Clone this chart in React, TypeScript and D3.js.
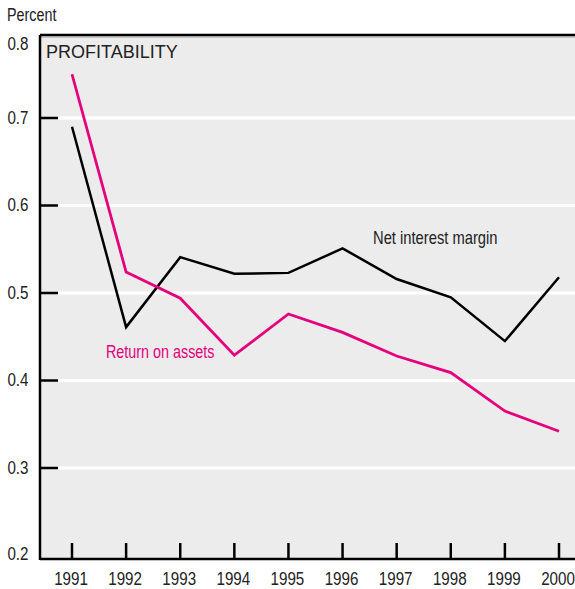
import React from "react";
import * as d3 from "d3";

const years = [1991, 1992, 1993, 1994, 1995, 1996, 1997, 1998, 1999, 2000];
const netInterestMargin = [0.69, 0.461, 0.541, 0.522, 0.523, 0.551, 0.516, 0.495, 0.445, 0.518];
const returnOnAssets = [0.75, 0.524, 0.494, 0.429, 0.476, 0.455, 0.428, 0.409, 0.365, 0.342];
const yTicks = [0.2, 0.3, 0.4, 0.5, 0.6, 0.7, 0.8];
const gridTicks = [0.3, 0.4, 0.5, 0.6, 0.7];

const W = 575;
const H = 589;
const SANS = "'Liberation Sans', Arial, sans-serif";
const PINK = "#e5007d";

function NText(props: {
  x: number;
  y: number;
  size: number;
  fill: string;
  anchor?: string;
  baseline?: string;
  children: React.ReactNode;
}) {
  return (
    <text
      transform={`translate(${props.x},${props.y}) scale(0.82,1)`}
      textAnchor={props.anchor || "start"}
      dominantBaseline={props.baseline || "auto"}
      fontFamily={SANS}
      fontSize={props.size}
      fill={props.fill}
    >
      {props.children}
    </text>
  );
}

export default function App() {
  const x = d3.scaleLinear().domain([1991, 2000]).range([72, 559]);
  const y = d3.scaleLinear().domain([0.3, 0.7]).range([468, 118]);
  const panelLeft = 40;
  const panelTop = 35;
  const panelBottom = 559;

  const line = d3
    .line<[number, number]>()
    .x((d) => x(d[0]))
    .y((d) => y(d[1]));

  const nim = years.map((yr, i) => [yr, netInterestMargin[i]] as [number, number]);
  const roa = years.map((yr, i) => [yr, returnOnAssets[i]] as [number, number]);

  const labelY = (t: number) => {
    if (t === 0.8) return 45;
    if (t === 0.2) return 555;
    return y(t) + 1;
  };

  return (
    <svg
      width={W}
      height={H}
      style={{ position: "absolute", left: 0, top: 0, background: "#fff" }}
    >
      <rect x={panelLeft} y={panelTop} width={W - panelLeft} height={panelBottom - panelTop} fill="#ececec" />
      {gridTicks.map((t) => (
        <line key={"g" + t} x1={58} x2={W} y1={y(t)} y2={y(t)} stroke="#fff" strokeWidth={3} />
      ))}
      {gridTicks.map((t) => (
        <line key={"t" + t} x1={panelLeft} x2={58} y1={y(t)} y2={y(t)} stroke="#000" strokeWidth={2.5} />
      ))}
      {/* top border */}
      <line x1={panelLeft} x2={W} y1={panelTop} y2={panelTop} stroke="#000" strokeWidth={2.5} />
      <line x1={panelLeft} x2={W} y1={panelTop + 2} y2={panelTop + 2} stroke="#999" strokeWidth={1} />
      {/* left axis */}
      <line x1={panelLeft} x2={panelLeft} y1={panelTop} y2={panelBottom + 1} stroke="#000" strokeWidth={2.5} />
      {/* bottom axis */}
      <line x1={panelLeft} x2={W} y1={panelBottom} y2={panelBottom} stroke="#000" strokeWidth={2.5} />
      {years.map((yr) => (
        <line key={"xt" + yr} x1={x(yr)} x2={x(yr)} y1={panelBottom} y2={543} stroke="#000" strokeWidth={2.5} />
      ))}
      {years.map((yr) => (
        <NText key={"xl" + yr} x={x(yr) - 1} y={585} anchor="middle" size={18.5} fill="#222">
          {yr}
        </NText>
      ))}
      {yTicks.map((t) => (
        <NText key={"yl" + t} x={28.5} y={labelY(t)} anchor="end" baseline="middle" size={18.5} fill="#222">
          {t.toFixed(1)}
        </NText>
      ))}
      <NText x={7} y={21} size={17.5} fill="#222">Percent</NText>
      <text x={46} y={58} fontFamily={SANS} fontSize={18} fill="#222">PROFITABILITY</text>

      <path d={line(nim) || ""} fill="none" stroke="#000" strokeWidth={2.5} strokeLinejoin="miter" />
      <path d={line(roa) || ""} fill="none" stroke={PINK} strokeWidth={2.8} strokeLinejoin="miter" />

      <NText x={373} y={244} size={18} fill="#222">Net interest margin</NText>
      <NText x={106} y={358} size={17.5} fill={PINK}>Return on assets</NText>
    </svg>
  );
}
